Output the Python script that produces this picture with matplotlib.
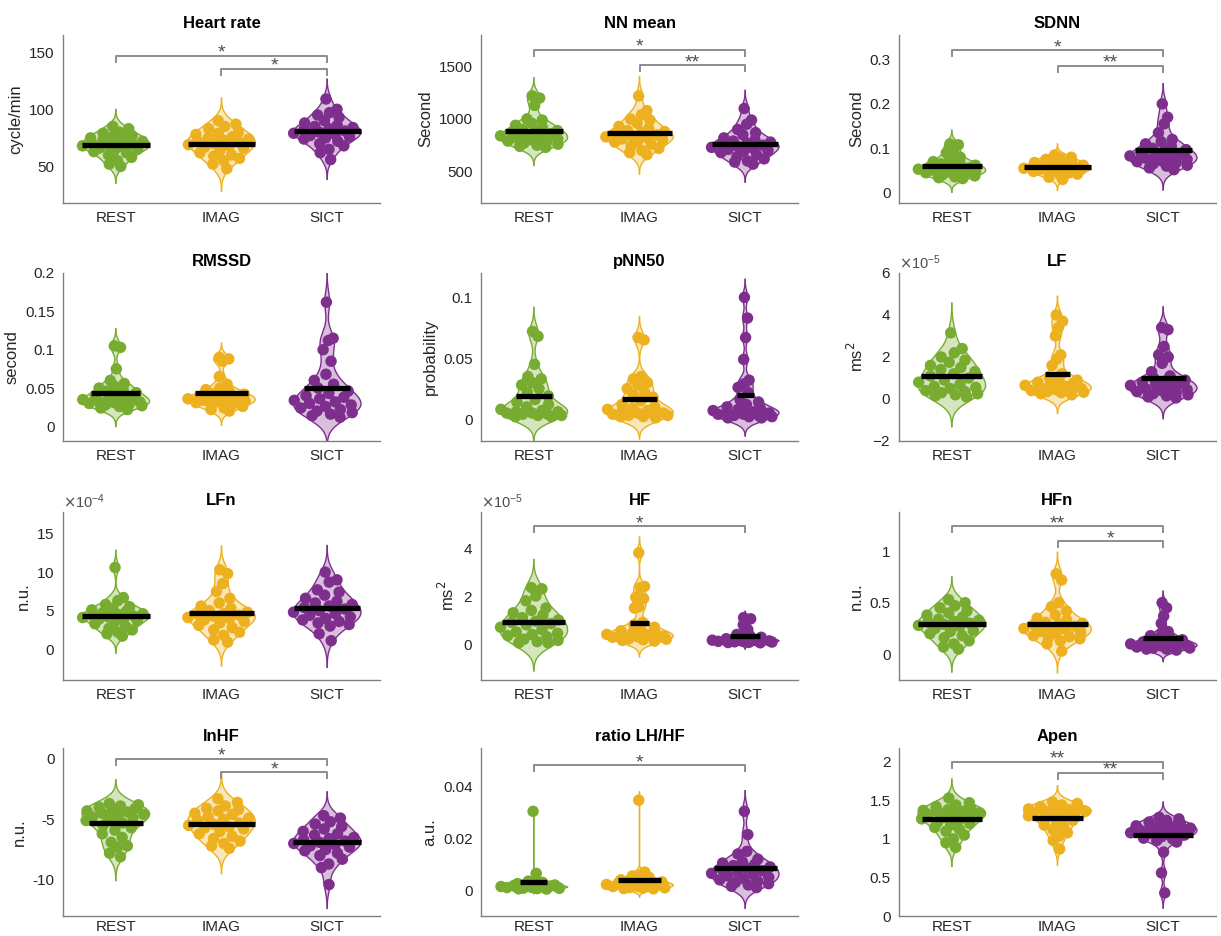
import numpy as np
import matplotlib
matplotlib.use("Agg")
import matplotlib.pyplot as plt
from matplotlib.ticker import ScalarFormatter

plt.rcParams['font.family'] = ['Liberation Sans', 'DejaVu Sans']
plt.rcParams['axes.unicode_minus'] = False

# conditions and MATLAB default colours
groups = ["REST", "IMAG", "SICT"]
colors = ["#77AC30", "#EDB120", "#7E2F8E"]

# ---- data (one list per condition) ----
hr_rest = [85, 83, 80, 79, 77, 76, 75, 74, 73, 72, 71, 70, 69, 68, 68, 67, 66, 65, 64, 63, 62, 60, 58, 55, 52, 50]
hr_imag = [90, 87, 85, 83, 80, 79, 78, 76, 75, 74, 73, 72, 71, 70, 69, 68, 67, 66, 64, 62, 60, 59, 57, 55, 52, 48]
hr_sict = [109, 100, 97, 95, 93, 90, 88, 86, 85, 84, 83, 82, 81, 80, 79, 78, 77, 76, 75, 74, 72, 70, 68, 65, 62, 56]

nn_rest = [1220, 1200, 1130, 1000, 990, 960, 940, 920, 900, 890, 880, 870, 860, 850, 840, 830, 820, 810, 800, 790, 780, 770, 760, 750, 740, 730]
nn_imag = [1220, 1080, 1040, 1000, 990, 960, 930, 910, 890, 880, 870, 860, 850, 840, 830, 820, 810, 800, 790, 780, 760, 740, 720, 700, 680, 660]
nn_sict = [1100, 990, 950, 900, 870, 850, 820, 800, 790, 780, 770, 760, 750, 740, 730, 720, 710, 700, 690, 680, 660, 640, 620, 600, 590, 570]

sdnn_rest = [0.11, 0.108, 0.095, 0.09, 0.08, 0.075, 0.07, 0.068, 0.065, 0.062, 0.06, 0.058, 0.056, 0.055, 0.053, 0.052, 0.05, 0.048, 0.046, 0.045, 0.043, 0.04, 0.038, 0.036, 0.034, 0.032]
sdnn_imag = [0.085, 0.08, 0.078, 0.075, 0.072, 0.07, 0.068, 0.066, 0.064, 0.062, 0.06, 0.058, 0.057, 0.056, 0.055, 0.054, 0.053, 0.052, 0.05, 0.048, 0.046, 0.044, 0.042, 0.04, 0.035, 0.03]
sdnn_sict = [0.2, 0.17, 0.155, 0.135, 0.12, 0.115, 0.11, 0.105, 0.1, 0.097, 0.094, 0.09, 0.088, 0.085, 0.083, 0.08, 0.078, 0.075, 0.072, 0.07, 0.068, 0.065, 0.062, 0.06, 0.056, 0.052]

rmssd_rest = [0.105, 0.103, 0.075, 0.06, 0.056, 0.053, 0.05, 0.048, 0.046, 0.044, 0.042, 0.04, 0.038, 0.036, 0.035, 0.034, 0.033, 0.032, 0.031, 0.03, 0.029, 0.028, 0.027, 0.026, 0.024, 0.022]
rmssd_imag = [0.09, 0.088, 0.085, 0.065, 0.055, 0.05, 0.048, 0.045, 0.043, 0.042, 0.04, 0.039, 0.038, 0.037, 0.036, 0.035, 0.034, 0.033, 0.032, 0.031, 0.03, 0.028, 0.026, 0.024, 0.022, 0.02]
rmssd_sict = [0.162, 0.115, 0.112, 0.1, 0.085, 0.068, 0.06, 0.055, 0.05, 0.046, 0.043, 0.04, 0.038, 0.036, 0.034, 0.032, 0.03, 0.028, 0.026, 0.024, 0.022, 0.02, 0.018, 0.016, 0.014, 0.012]

pnn_rest = [0.072, 0.068, 0.045, 0.035, 0.033, 0.03, 0.028, 0.025, 0.022, 0.019, 0.016, 0.014, 0.012, 0.01, 0.008, 0.007, 0.006, 0.006, 0.005, 0.005, 0.004, 0.004, 0.003, 0.003, 0.002, 0.002]
pnn_imag = [0.067, 0.065, 0.035, 0.033, 0.03, 0.028, 0.025, 0.022, 0.02, 0.018, 0.015, 0.012, 0.01, 0.009, 0.008, 0.007, 0.006, 0.005, 0.005, 0.004, 0.004, 0.003, 0.003, 0.002, 0.002, 0.001]
pnn_sict = [0.1, 0.083, 0.067, 0.049, 0.032, 0.029, 0.026, 0.022, 0.016, 0.014, 0.012, 0.01, 0.009, 0.008, 0.007, 0.006, 0.005, 0.005, 0.004, 0.004, 0.003, 0.003, 0.002, 0.002, 0.001, 0.001]

# LF and HF in 1e-5 ms^2, LFn in 1e-4 n.u.
lf_rest = [3.15, 2.4, 2.2, 2.0, 1.85, 1.75, 1.6, 1.5, 1.4, 1.3, 1.2, 1.1, 1.0, 0.9, 0.8, 0.7, 0.6, 0.55, 0.5, 0.4, 0.35, 0.3, 0.25, 0.2, 0.15, 0.1]
lf_imag = [4.0, 3.7, 3.4, 3.0, 2.1, 1.9, 1.6, 1.2, 1.0, 0.9, 0.85, 0.8, 0.75, 0.7, 0.65, 0.6, 0.55, 0.5, 0.45, 0.4, 0.38, 0.35, 0.32, 0.3, 0.25, 0.2]
lf_sict = [3.4, 3.3, 2.5, 2.1, 2.0, 1.7, 1.3, 1.1, 1.0, 0.9, 0.85, 0.8, 0.75, 0.7, 0.65, 0.6, 0.5, 0.45, 0.4, 0.35, 0.3, 0.25, 0.2, 0.15, 0.1, 0.05]

lfn_rest = [10.6, 6.7, 6.3, 5.8, 5.5, 5.3, 5.1, 4.9, 4.7, 4.6, 4.5, 4.4, 4.3, 4.2, 4.1, 4.0, 3.9, 3.7, 3.5, 3.3, 3.0, 2.7, 2.5, 2.2, 2.0, 1.7]
lfn_imag = [10.3, 9.8, 8.5, 7.5, 6.6, 6.0, 5.6, 5.3, 5.0, 4.8, 4.6, 4.5, 4.4, 4.3, 4.1, 4.0, 3.8, 3.6, 3.4, 3.1, 2.8, 2.5, 2.2, 1.8, 1.2, 0.9]
lfn_sict = [10.0, 9.0, 8.7, 7.7, 7.4, 7.0, 6.6, 6.2, 6.0, 5.8, 5.6, 5.4, 5.2, 5.0, 4.8, 4.6, 4.4, 4.2, 4.0, 3.8, 3.6, 3.4, 3.2, 3.0, 2.0, 1.1]

hf_rest = [2.35, 2.3, 2.0, 1.8, 1.5, 1.4, 1.3, 1.2, 1.1, 1.0, 0.95, 0.9, 0.85, 0.8, 0.7, 0.6, 0.5, 0.45, 0.4, 0.35, 0.3, 0.2, 0.15, 0.1, 0.05, 0.05]
hf_imag = [3.8, 2.4, 2.35, 1.95, 1.9, 1.55, 1.5, 0.9, 0.8, 0.7, 0.6, 0.55, 0.5, 0.45, 0.4, 0.38, 0.35, 0.32, 0.3, 0.28, 0.25, 0.22, 0.2, 0.18, 0.15, 0.12]
hf_sict = [1.1, 1.05, 0.95, 0.8, 0.6, 0.5, 0.4, 0.35, 0.3, 0.28, 0.25, 0.22, 0.2, 0.18, 0.16, 0.15, 0.14, 0.13, 0.12, 0.11, 0.1, 0.09, 0.08, 0.07, 0.06, 0.05]

hfn_rest = [0.53, 0.5, 0.47, 0.45, 0.42, 0.4, 0.38, 0.36, 0.34, 0.33, 0.32, 0.31, 0.3, 0.29, 0.28, 0.27, 0.25, 0.23, 0.22, 0.2, 0.18, 0.16, 0.13, 0.1, 0.07, 0.05]
hfn_imag = [0.78, 0.72, 0.5, 0.46, 0.42, 0.38, 0.35, 0.33, 0.31, 0.3, 0.29, 0.28, 0.27, 0.26, 0.25, 0.24, 0.22, 0.21, 0.2, 0.18, 0.17, 0.16, 0.15, 0.13, 0.1, 0.03]
hfn_sict = [0.5, 0.45, 0.37, 0.3, 0.22, 0.2, 0.18, 0.16, 0.15, 0.14, 0.13, 0.12, 0.11, 0.1, 0.1, 0.09, 0.09, 0.08, 0.08, 0.07, 0.07, 0.06, 0.06, 0.05, 0.05, 0.04]

lnhf_rest = [-3.7, -3.8, -3.9, -4.0, -4.1, -4.2, -4.3, -4.4, -4.5, -4.6, -4.7, -4.8, -4.9, -5.0, -5.1, -5.3, -5.5, -5.7, -5.9, -6.2, -6.5, -6.9, -7.2, -7.3, -7.8, -8.1]
lnhf_imag = [-3.3, -3.6, -3.9, -4.1, -4.2, -4.3, -4.5, -4.6, -4.8, -4.9, -5.0, -5.1, -5.3, -5.4, -5.5, -5.6, -5.7, -5.8, -6.0, -6.2, -6.4, -6.6, -6.8, -7.0, -7.2, -7.4]
lnhf_sict = [-4.7, -4.9, -5.2, -5.4, -5.6, -5.8, -6.0, -6.2, -6.3, -6.5, -6.6, -6.7, -6.8, -6.9, -7.0, -7.1, -7.2, -7.3, -7.5, -7.6, -7.8, -8.0, -8.3, -8.7, -9.0, -10.4]

ratio_rest = [0.0305, 0.0065, 0.004, 0.0035, 0.003, 0.003, 0.0025, 0.0025, 0.002, 0.002, 0.002, 0.0018, 0.0016, 0.0015, 0.0014, 0.0013, 0.0012, 0.0011, 0.001, 0.001, 0.0009, 0.0008, 0.0007, 0.0006, 0.0005, 0.0004]
ratio_imag = [0.0348, 0.007, 0.006, 0.0055, 0.005, 0.0045, 0.004, 0.0038, 0.0035, 0.0032, 0.003, 0.0028, 0.0026, 0.0024, 0.0022, 0.002, 0.0018, 0.0016, 0.0015, 0.0014, 0.0012, 0.001, 0.0009, 0.0008, 0.0006, 0.0005]
ratio_sict = [0.0305, 0.0215, 0.015, 0.014, 0.012, 0.011, 0.0105, 0.01, 0.0095, 0.009, 0.0085, 0.008, 0.0075, 0.007, 0.0065, 0.006, 0.0055, 0.005, 0.0045, 0.004, 0.0035, 0.003, 0.0025, 0.002, 0.0015, 0.001]

apen_rest = [1.53, 1.47, 1.44, 1.42, 1.4, 1.38, 1.37, 1.36, 1.35, 1.34, 1.33, 1.32, 1.3, 1.28, 1.26, 1.24, 1.22, 1.2, 1.18, 1.15, 1.12, 1.1, 1.05, 1.0, 0.95, 0.89]
apen_imag = [1.48, 1.46, 1.44, 1.42, 1.41, 1.4, 1.39, 1.38, 1.37, 1.36, 1.35, 1.34, 1.33, 1.32, 1.3, 1.28, 1.26, 1.24, 1.21, 1.18, 1.15, 1.12, 1.08, 1.03, 0.98, 0.87]
apen_sict = [1.28, 1.26, 1.24, 1.22, 1.2, 1.18, 1.17, 1.16, 1.15, 1.14, 1.13, 1.12, 1.1, 1.09, 1.08, 1.07, 1.06, 1.05, 1.03, 1.01, 1.0, 0.98, 0.96, 0.83, 0.56, 0.3]

titles = ["Heart rate", "NN mean", "SDNN", "RMSSD", "pNN50", "LF",
          "LFn", "HF", "HFn", "lnHF", "ratio LH/HF", "Apen"]
ylabels = ["cycle/min", "Second", "Second", "second", "probability", "ms$^2$",
           "n.u.", "ms$^2$", "n.u.", "n.u.", "a.u.", ""]
panel_data = [
    (hr_rest, hr_imag, hr_sict), (nn_rest, nn_imag, nn_sict), (sdnn_rest, sdnn_imag, sdnn_sict),
    (rmssd_rest, rmssd_imag, rmssd_sict), (pnn_rest, pnn_imag, pnn_sict), (lf_rest, lf_imag, lf_sict),
    (lfn_rest, lfn_imag, lfn_sict), (hf_rest, hf_imag, hf_sict), (hfn_rest, hfn_imag, hfn_sict),
    (lnhf_rest, lnhf_imag, lnhf_sict), (ratio_rest, ratio_imag, ratio_sict), (apen_rest, apen_imag, apen_sict),
]
# unit factor of stored values (x10^-5 etc.)
exponents = [0, 0, 0, 0, 0, -5, -4, -5, 0, 0, 0, 0]
ylims = [(18, 165), (200, 1800), (-0.023, 0.355), (-0.019, 0.2), (-0.018, 0.12), (-2, 6),
         (-4, 17.8), (-1.5, 5.5), (-0.25, 1.38), (-13, 0.9), (-0.01, 0.055), (0, 2.18)]
yticks = [[50, 100, 150], [500, 1000, 1500], [0, 0.1, 0.2, 0.3], [0, 0.05, 0.1, 0.15, 0.2],
          [0, 0.05, 0.1], [-2, 0, 2, 4, 6], [0, 5, 10, 15], [0, 2, 4], [0, 0.5, 1],
          [-10, -5, 0], [0, 0.02, 0.04], [0, 0.5, 1, 1.5, 2]]
ytick_labels = [["50", "100", "150"], ["500", "1000", "1500"], ["0", "0.1", "0.2", "0.3"],
                ["0", "0.05", "0.1", "0.15", "0.2"], ["0", "0.05", "0.1"], ["-2", "0", "2", "4", "6"],
                ["0", "5", "10", "15"], ["0", "2", "4"], ["0", "0.5", "1"], ["-10", "-5", "0"],
                ["0", "0.02", "0.04"], ["0", "0.5", "1", "1.5", "2"]]
# significance brackets: (from group, to group, height, stars)
brackets = [
    [(1, 3, 147, "*"), (2, 3, 135.6, "*")],
    [(1, 3, 1659, "*"), (2, 3, 1513, "**")],
    [(1, 3, 0.321, "*"), (2, 3, 0.286, "**")],
    [], [], [], [],
    [(1, 3, 4.9, "*")],
    [(1, 3, 1.244, "**"), (2, 3, 1.095, "*")],
    [(1, 3, 0.0, "*"), (2, 3, -1.1, "*")],
    [(1, 3, 0.0484, "*")],
    [(1, 3, 2.0, "**"), (2, 3, 1.86, "**")],
]


def ks_density(data):
    # gaussian kernel, bandwidth like MATLAB ksdensity (robust sigma)
    n = len(data)
    sig = np.median(np.abs(data - np.median(data))) / 0.6745
    bw = sig * (4.0 / (3.0 * n)) ** 0.2
    grid = np.linspace(data.min() - 3 * bw, data.max() + 3 * bw, 400)
    dens = np.exp(-0.5 * ((grid[:, None] - data[None, :]) / bw) ** 2).sum(axis=1)
    dens /= n * bw * np.sqrt(2 * np.pi)
    return grid, dens


def violin(ax, data, pos, color):
    grid, dens = ks_density(data)
    w = 0.32 / dens.max()
    half = dens * w
    ax.fill_betweenx(grid, pos - half, pos + half, facecolor=color, alpha=0.3,
                     linewidth=0, zorder=1)
    ax.plot(pos + half, grid, color=color, lw=1.0, zorder=1)
    ax.plot(pos - half, grid, color=color, lw=1.0, zorder=1)
    # spread the points inside the violin (fixed pattern instead of rand)
    spread = 2 * ((np.arange(len(data)) * 0.618034 + 0.35) % 1.0) - 1
    xs = pos + spread * np.interp(data, grid, half)
    ax.scatter(xs, data, s=68, color=color, edgecolors='none', zorder=2)
    m = data.mean()
    mh = np.interp(m, grid, half)
    ax.plot([pos - mh, pos + mh], [m, m], color='k', lw=3.8,
            solid_capstyle='butt', zorder=3)


fig = plt.figure(figsize=(12.21, 9.36), dpi=100)
W, H = 1221.0, 936.0
col_left = [63, 481, 899]
row_top = [35, 273, 512, 748]
aw, ah = 317, 168

for k in range(12):
    r, c = divmod(k, 3)
    ax = fig.add_axes([col_left[c] / W, (H - row_top[r] - ah) / H, aw / W, ah / H])
    scale = 10.0 ** exponents[k]
    for g in range(3):
        violin(ax, np.asarray(panel_data[k][g], float) * scale, g + 1, colors[g])

    y0, y1 = ylims[k]
    ax.set_ylim(y0 * scale, y1 * scale)
    ax.set_xlim(0.5, 3.5)
    ax.set_xticks([1, 2, 3])
    ax.set_xticklabels(groups)
    if exponents[k] != 0:
        ax.set_yticks(np.array(yticks[k]) * scale)
        fmt = ScalarFormatter(useMathText=True)
        fmt.set_powerlimits((exponents[k], exponents[k]))
        ax.yaxis.set_major_formatter(fmt)
    else:
        ax.set_yticks(yticks[k])
        ax.set_yticklabels(ytick_labels[k])

    drop = 0.036 * (y1 - y0) * scale
    for (a, b, lev, stars) in brackets[k]:
        lev = lev * scale
        ax.plot([a, a, b, b], [lev - drop, lev, lev, lev - drop], color='0.55', lw=1.4, zorder=4)
        ax.annotate(stars, ((a + b) / 2, lev), xytext=(0, -1.5), textcoords='offset points',
                    ha='center', va='baseline', fontsize=14, color='0.3', zorder=4)

    ax.set_title(titles[k], fontsize=12, fontweight='bold', pad=5)
    ax.set_ylabel(ylabels[k], fontsize=12, color='0.15')
    for side in ['top', 'right']:
        ax.spines[side].set_visible(False)
    for side in ['left', 'bottom']:
        ax.spines[side].set_color('0.5')
        ax.spines[side].set_linewidth(1.0)
    ax.tick_params(length=0, labelsize=11, labelcolor='0.15', pad=6)
    if r == 3:
        ax.tick_params(axis='x', pad=3)
    ax.yaxis.get_offset_text().set_fontsize(10.5)
    ax.yaxis.get_offset_text().set_color('0.3')

fig.savefig("out.png", dpi=100)
